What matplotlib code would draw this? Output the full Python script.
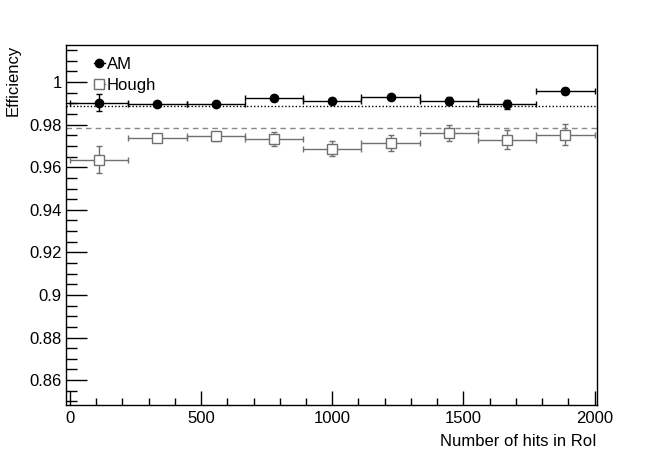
import numpy as np
import matplotlib
matplotlib.use('Agg')
import matplotlib.pyplot as plt
from matplotlib.ticker import MultipleLocator
from matplotlib.lines import Line2D

plt.rcParams['font.family'] = ['Liberation Sans', 'DejaVu Sans']

# Binning: 9 bins from 0 to 2000 hits
bin_edges = np.linspace(0, 2000, 10)
bin_centers = 0.5 * (bin_edges[:-1] + bin_edges[1:])
bin_half = 0.5 * np.diff(bin_edges)

# Efficiency values
am_eff = [0.9904, 0.9899, 0.9899, 0.9927, 0.9912, 0.9930, 0.9911, 0.9896, 0.9959]
am_err = [0.0041, 0.0008, 0.0008, 0.0010, 0.0012, 0.0010, 0.0020, 0.0022, 0.0015]
hough_eff = [0.9636, 0.9737, 0.9745, 0.9734, 0.9688, 0.9715, 0.9762, 0.9729, 0.9753]
hough_err = [0.0064, 0.0010, 0.0022, 0.0033, 0.0036, 0.0038, 0.0038, 0.0044, 0.0050]

am_mean = 0.9890
hough_mean = 0.9783

am_style = dict(marker='o', color='black', markersize=6)
hough_style = dict(marker='s', color='#707070', markerfacecolor='white',
                   markeredgecolor='#707070', markersize=6.5)

fig = plt.figure(figsize=(6.64, 4.51), dpi=100)
ax = fig.add_axes([0.0994, 0.102, 0.8, 0.798])

ax.axhline(am_mean, color='black', linestyle=(0, (1, 1.5)), linewidth=1.0, zorder=1)
ax.axhline(hough_mean, color='#888888', linestyle=(0, (4, 3)), linewidth=1.0, zorder=1)

ax.errorbar(bin_centers, am_eff, xerr=bin_half, yerr=am_err, linestyle='none',
            elinewidth=1.0, capsize=2, capthick=1.0, zorder=3, **am_style)
ax.errorbar(bin_centers, hough_eff, xerr=bin_half, yerr=hough_err, linestyle='none',
            elinewidth=1.0, capsize=2, capthick=1.0, zorder=3, **hough_style)

ax.set_xlim(-15, 2010)
ax.set_ylim(0.8483, 1.0174)

ax.xaxis.set_major_locator(MultipleLocator(500))
ax.xaxis.set_minor_locator(MultipleLocator(100))
ax.yaxis.set_major_locator(MultipleLocator(0.02))
ax.yaxis.set_minor_locator(MultipleLocator(0.005))
ax.yaxis.set_major_formatter(plt.FuncFormatter(lambda v, p: ('%g' % round(v, 3))))

ax.tick_params(axis='both', which='both', direction='in', top=False, right=False,
               labelsize=12, width=1)
ax.tick_params(axis='y', which='major', length=15, pad=3)
ax.tick_params(axis='y', which='minor', length=8)
ax.tick_params(axis='x', which='major', length=10, pad=4)
ax.tick_params(axis='x', which='minor', length=5)

for sp in ax.spines.values():
    sp.set_linewidth(1.0)

ax.set_xlabel('Number of hits in RoI', fontsize=12, loc='right', labelpad=6)
ax.set_ylabel('Efficiency', fontsize=12, loc='top', labelpad=6)

handles = [Line2D([], [], linewidth=1.0, label='AM', **am_style),
           Line2D([], [], linewidth=1.0, label='Hough', **hough_style)]
ax.legend(handles=handles, loc='upper left', frameon=False, fontsize=12,
          handlelength=0.7, handletextpad=0.1, borderaxespad=0.3,
          labelspacing=0.35, bbox_to_anchor=(0.03, 1.0))

fig.savefig('out.png', dpi=100)
